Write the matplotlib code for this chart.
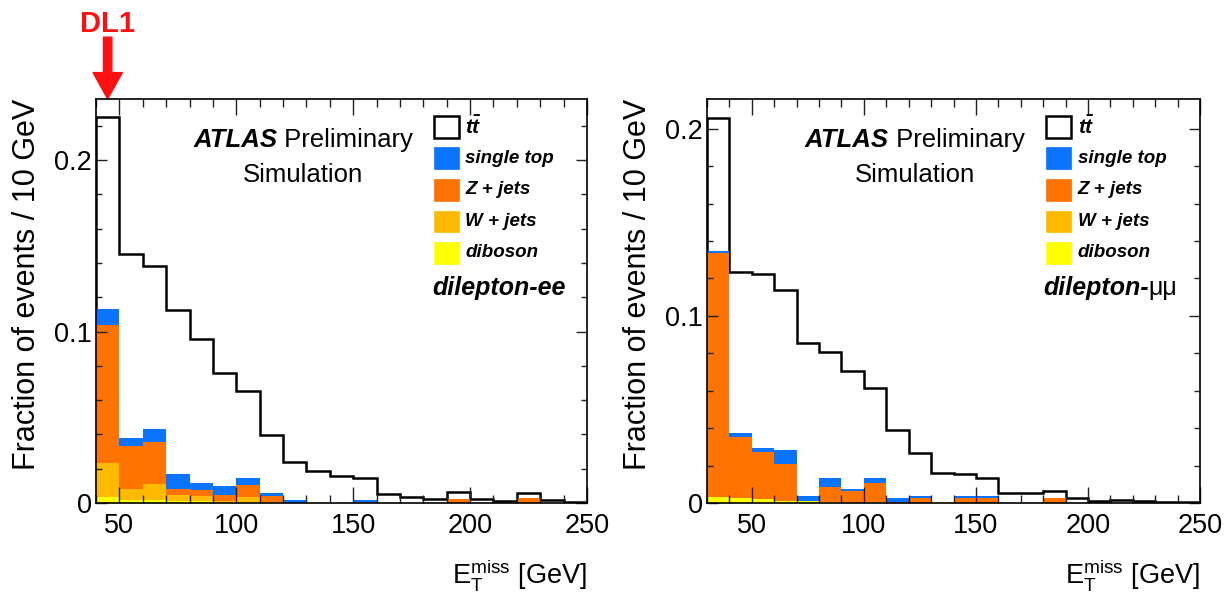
import numpy as np
import matplotlib
matplotlib.use('Agg')
import matplotlib.pyplot as plt
from matplotlib.ticker import MultipleLocator, FuncFormatter
from matplotlib.patches import Rectangle

plt.rcParams['font.family'] = ['Liberation Sans', 'DejaVu Sans']
plt.rcParams['mathtext.fontset'] = 'custom'
plt.rcParams['mathtext.rm'] = 'Liberation Sans'
plt.rcParams['mathtext.bf'] = 'Liberation Sans:bold:italic'

""" data read off the picture (fraction of events per 10 GeV bin) """
edges_ee = np.arange(40, 251, 10)
ttbar_ee = [0.225, 0.145, 0.138, 0.1125, 0.0954, 0.0756, 0.0653, 0.0395, 0.0237,
            0.0185, 0.0159, 0.0148, 0.0051, 0.0033, 0.0021, 0.0066, 0.0023,
            0.0012, 0.0056, 0.0017, 0.0008]
diboson_ee = [0.0033, 0.002, 0.002, 0.0012, 0.001, 0.0003, 0.0003, 0, 0,
              0, 0, 0, 0, 0, 0, 0, 0, 0, 0, 0, 0]
wjets_ee = [0.0198, 0.006, 0.0092, 0.0035, 0.0031, 0.0007, 0.003, 0.0003, 0,
            0, 0, 0, 0, 0, 0, 0, 0, 0, 0, 0, 0]
zjets_ee = [0.0809, 0.0254, 0.0243, 0.0033, 0.0033, 0.0035, 0.0074, 0.0038, 0,
            0, 0, 0.0003, 0, 0, 0, 0.0023, 0, 0, 0.003, 0, 0]
stop_ee = [0.009, 0.0046, 0.0076, 0.0088, 0.0044, 0.0056, 0.0041, 0.0015, 0.0015,
           0, 0, 0.0012, 0, 0, 0, 0, 0, 0, 0, 0, 0]

edges_mm = np.arange(30, 251, 10)
ttbar_mm = [0.206, 0.1232, 0.1223, 0.1136, 0.0857, 0.0808, 0.0708, 0.0617, 0.039,
            0.0269, 0.0162, 0.0157, 0.0132, 0.0052, 0.0052, 0.0066, 0.0025,
            0.0011, 0.0014, 0.001, 0.0008, 0.0008]
diboson_mm = [0.0034, 0.0025, 0.0022, 0.0013, 0.0013, 0.0005, 0, 0.0003, 0, 0,
              0.0005, 0, 0, 0, 0, 0, 0, 0, 0, 0, 0, 0]
wjets_mm = [0] * 22
zjets_mm = [0.1303, 0.0326, 0.0252, 0.0196, 0, 0.0079, 0.0064, 0.0106, 0.0008,
            0.0028, 0, 0.0028, 0.0028, 0, 0, 0.0025, 0, 0, 0, 0, 0, 0]
stop_mm = [0.0008, 0.0022, 0.0022, 0.0074, 0.0026, 0.0051, 0.0009, 0.0023, 0.0017,
           0.0011, 0, 0.0009, 0.0011, 0, 0, 0, 0, 0, 0, 0, 0, 0]

labels = [r'$\mathbf{t\bar{t}}$', 'single top', 'Z + jets', 'W + jets', 'diboson']
colors = ['white', '#0a74ff', '#ff7300', '#ffba00', '#ffff00']
ylims = [0.2356, 0.2159]


def draw_panel(ax, edges, ttbar, dib, wj, zj, st, ytop):
    ax.stairs(ttbar, edges, fill=True, facecolor='white', edgecolor='black',
              linewidth=1.8, zorder=1)
    base = np.zeros(len(ttbar))
    # stack from the bottom: diboson, W+jets, Z+jets, single top
    for vals, c in zip([dib, wj, zj, st], colors[:0:-1]):
        top = base + np.array(vals)
        ax.stairs(top, edges, baseline=base, fill=True, color=c, linewidth=0,
                  zorder=2)
        base = top
    ax.set_xlim(edges[0], edges[-1])
    ax.set_ylim(0, ytop)
    ax.xaxis.set_major_locator(MultipleLocator(50))
    ax.xaxis.set_minor_locator(MultipleLocator(10))
    ax.yaxis.set_major_locator(MultipleLocator(0.1))
    ax.yaxis.set_minor_locator(MultipleLocator(0.02))
    ax.yaxis.set_major_formatter(FuncFormatter(lambda v, p: '0' if v == 0 else '%g' % v))
    ax.tick_params(axis='both', which='both', direction='in', top=True, right=True,
                   labelsize=19.5, color='#222222', width=1.0)
    ax.tick_params(axis='x', which='major', length=11.5, pad=7)
    ax.tick_params(axis='x', which='minor', length=5.8)
    ax.tick_params(axis='y', which='major', length=8, pad=3)
    ax.tick_params(axis='y', which='minor', length=4.3)
    for s in ax.spines.values():
        s.set_linewidth(1.2)
        s.set_zorder(5)
    ax.set_axisbelow(False)

    ax.text(-0.14, 1.0, 'Fraction of events / 10 GeV', transform=ax.transAxes,
            rotation=90, rotation_mode='anchor', ha='right', va='center', fontsize=22)
    ax.text(1.0, -0.2, r'$\mathrm{E_{T}^{miss}}$ [GeV]', transform=ax.transAxes,
            ha='right', va='baseline', fontsize=19.5)

    # ATLAS label
    t1 = ax.text(0.198, 0.881, 'ATLAS', transform=ax.transAxes, fontsize=18.5,
                 weight='bold', style='italic', va='baseline')
    ax.annotate(' Preliminary', xy=(1, 0), xycoords=t1, va='bottom', fontsize=18.5)
    ax.text(0.422, 0.795, 'Simulation', transform=ax.transAxes, fontsize=18.5,
            ha='center', va='baseline')

    # legend
    for i, (lab, c) in enumerate(zip(labels, colors)):
        yc = 0.931 - i * 0.078
        ax.add_patch(Rectangle((0.688, yc - 0.027), 0.051, 0.054, transform=ax.transAxes,
                               facecolor=c, edgecolor='black' if i == 0 else c,
                               linewidth=1.8 if i == 0 else 0.5, zorder=6, clip_on=False))
        ax.text(0.752, yc, lab, transform=ax.transAxes, fontsize=13.5 if i else 15,
                weight='bold', style='italic', va='center', zorder=6)


fig = plt.figure(figsize=(12.32, 5.96), dpi=100)
ax1 = fig.add_axes([96 / 1232, 93 / 596, 491 / 1232, 404 / 596])
ax2 = fig.add_axes([707 / 1232, 93 / 596, 493 / 1232, 404 / 596])

draw_panel(ax1, edges_ee, ttbar_ee, diboson_ee, wjets_ee, zjets_ee, stop_ee, ylims[0])
draw_panel(ax2, edges_mm, ttbar_mm, diboson_mm, wjets_mm, zjets_mm, stop_mm, ylims[1])

ax1.text(0.684, 0.515, 'dilepton-ee', transform=ax1.transAxes, fontsize=18,
         weight='bold', style='italic', va='baseline')
t2 = ax2.text(0.6815, 0.515, 'dilepton-', transform=ax2.transAxes, fontsize=18,
              weight='bold', style='italic', va='baseline')
ax2.annotate('\u03bc\u03bc', xy=(1, 0), xycoords=t2, va='bottom', fontsize=18)

# DL1 marker above first bin
ax1.annotate('', xy=(45, 1.0), xycoords=('data', 'axes fraction'),
             xytext=(45, 1.153), textcoords=('data', 'axes fraction'),
             arrowprops=dict(arrowstyle='simple,head_length=0.95,head_width=1.05,tail_width=0.3',
                             color='#ff1010', shrinkA=0, shrinkB=0, mutation_scale=20),
             annotation_clip=False)
ax1.text(45, 1.166, 'DL1', transform=ax1.get_xaxis_transform(), color='#ff1010',
         fontsize=21, weight='bold', ha='center', va='baseline')

fig.savefig('out.png', dpi=100)
